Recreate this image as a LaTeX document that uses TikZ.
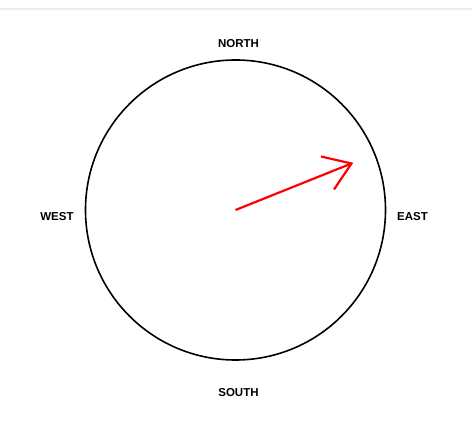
\documentclass[tikz,border=0pt]{standalone}
\usepackage{fontspec}
\setmainfont{Liberation Sans}
\begin{document}
\begin{tikzpicture}[x=1pt,y=-1pt,
  lbl/.style={font=\fontsize{11.5}{13}\selectfont\bfseries, inner sep=0pt},
  dial/.style={draw=black, line width=1.6pt},
  pointer/.style={draw=red, line width=2.2pt}]
\useasboundingbox (0,0) rectangle (472,435);
\fill[white] (0,0) rectangle (472,435);
\fill[black!7] (0,8) rectangle (472,10);
\coordinate (c) at (235.5,210);
\draw[dial] (c) circle[radius=150];
\node[lbl] (north) at (238.5,44) {NORTH};
\node[lbl] (south) at (238.5,393) {SOUTH};
\node[lbl] (west) at (57,216.5) {WEST};
\node[lbl] (east) at (412.5,216.5) {EAST};
\coordinate (tip) at (351.5,163.5);
\coordinate (h1) at (321,156.5);
\coordinate (h2) at (334,189.5);
\draw[pointer] (c) -- (tip);
\draw[pointer, line join=miter] (h1) -- (tip) -- (h2);
\end{tikzpicture}
\end{document}
